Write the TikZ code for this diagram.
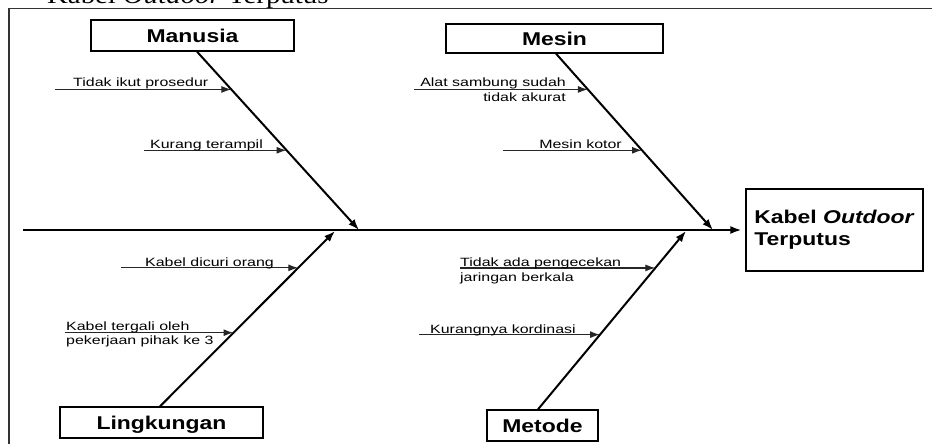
\documentclass[tikz,border=0pt]{standalone}
\usepackage{fontspec}
\setmainfont{Liberation Sans}
\newfontfamily\capfont{Liberation Serif}
\usepackage{graphicx}
\usetikzlibrary{arrows.meta,calc}
% horizontally widened text
\newcommand{\wx}[1]{\scalebox{1.33}[1]{#1}}
\newcommand{\wb}[1]{\scalebox{1.24}[1]{#1}}

\begin{document}
\begin{tikzpicture}[x=1pt,y=-1pt,
  box/.style={draw,line width=1.3pt,inner sep=0pt},
  cat/.style={box,font=\fontsize{18.5}{22}\selectfont\bfseries,text height=13.3pt,text depth=0pt},
  bone/.style={line width=2pt,-{Latex[length=11pt,width=8pt]}},
  sub/.style={line width=1.2pt,draw=black!85,-{Latex[length=10pt,width=7pt]}},
  lbl/.style={inner sep=0pt,font=\fontsize{12}{14.5}\selectfont},
]
\clip (0,0) rectangle (932,444);
\useasboundingbox (0,0) rectangle (932,444);

% caption line above the frame
\node[anchor=base west,inner sep=0pt,font=\capfont\fontsize{24}{28}\selectfont] (cap) at (47,4)
  {\scalebox{1.2}[1]{Kabel \textit{Outdoor} Terputus}};

% frame
\draw[line width=1.1pt,black!80] (940,8.5) -- (9,8.5) -- (9,450);

% category boxes
\node[cat,minimum width=203pt,minimum height=31pt] (man) at (192.5,35.5) {\wb{Manusia}};
\node[cat,minimum width=217pt,minimum height=29pt] (mes) at (554.5,38.5) {\wb{Mesin}};
\node[cat,minimum width=203pt,minimum height=31pt] (lin) at (161.5,422.5) {\wb{Lingkungan}};
\node[cat,minimum width=111pt,minimum height=31pt] (met) at (542.5,425.5) {\wb{Metode}};

% effect box
\node[box,minimum width=177pt,minimum height=82pt,align=left,
      font=\fontsize{18.5}{22}\selectfont\bfseries] (eff) at (834.5,230)
  {\wb{Kabel \textit{Outdoor}}\\\wb{Terputus}};

% spine
\coordinate (spS) at (23,230);
\draw[bone,shorten >=4pt] (spS) -- (eff.west);

% main bones
\coordinate (manS) at ([xshift=4.5pt]man.south);
\coordinate (mesS) at ([xshift=1.5pt]mes.south);
\coordinate (linS) at ([xshift=-1.5pt]lin.north);
\coordinate (metS) at ([xshift=-4.5pt]met.north);
\coordinate (manT) at (359,230);
\coordinate (mesT) at (713,230);
\coordinate (linT) at (335,231);
\coordinate (metT) at (686,231);
\draw[bone] (manS) -- (manT);
\draw[bone] (mesS) -- (mesT);
\draw[bone] (linS) -- (linT);
\draw[bone] (metS) -- (metT);

% cause points on the bones
\coordinate (m1) at ($(manS)!0.212!(manT)$);
\coordinate (m2) at ($(manS)!0.553!(manT)$);
\coordinate (s1) at ($(mesS)!0.203!(mesT)$);
\coordinate (s2) at ($(mesS)!0.548!(mesT)$);
\coordinate (l1) at ($(linS)!0.790!(linT)$);
\coordinate (l2) at ($(linS)!0.420!(linT)$);
\coordinate (d1) at ($(metS)!0.793!(metT)$);
\coordinate (d2) at ($(metS)!0.419!(metT)$);

% cause arrows
\coordinate (m1s) at (55,0);
\coordinate (m2s) at (144,0);
\coordinate (s1s) at (414,0);
\coordinate (s2s) at (503,0);
\coordinate (l1s) at (121,0);
\coordinate (l2s) at (65,0);
\coordinate (d1s) at (460,0);
\coordinate (d2s) at (419,0);
\draw[sub] (m1 -| m1s) -- (m1);
\draw[sub] (m2 -| m2s) -- (m2);
\draw[sub] (s1 -| s1s) -- (s1);
\draw[sub] (s2 -| s2s) -- (s2);
\draw[sub] (l1 -| l1s) -- (l1);
\draw[sub] (l2 -| l2s) -- (l2);
\draw[sub] (d1 -| d1s) -- (d1);
\draw[sub] (d2 -| d2s) -- (d2);

% cause labels
\node[lbl,anchor=base west] (t1) at (73,87) {\wx{Tidak ikut prosedur}};
\node[lbl,anchor=base west] (t2) at (150,148) {\wx{Kurang terampil}};
\node[lbl,anchor=base east] (t3a) at (566,87) {\wx{Alat sambung sudah}};
\node[lbl,anchor=base east] (t3b) at (566,102) {\wx{tidak akurat}};
\node[lbl,anchor=base east] (t4) at (622,148) {\wx{Mesin kotor}};
\node[lbl,anchor=base west] (t5) at (145,266) {\wx{Kabel dicuri orang}};
\node[lbl,anchor=base west] (t6a) at (66,330) {\wx{Kabel tergali oleh}};
\node[lbl,anchor=base west] (t6b) at (66,344) {\wx{pekerjaan pihak ke 3}};
\node[lbl,anchor=base west] (t7a) at (460,266) {\wx{Tidak ada pengecekan}};
\node[lbl,anchor=base west] (t7b) at (460,281) {\wx{jaringan berkala}};
\node[lbl,anchor=base west] (t8) at (430,333) {\wx{Kurangnya kordinasi}};
\end{tikzpicture}
\end{document}
